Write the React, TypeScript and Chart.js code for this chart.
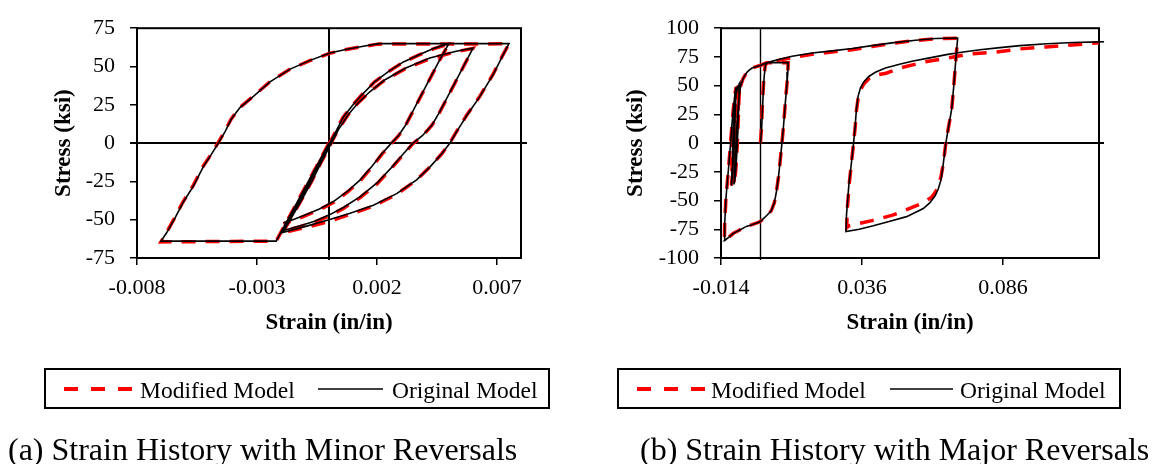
import React, { useEffect, useRef } from "react";
import { Chart, registerables } from "chart.js";

Chart.register(...registerables);

const SERIF = "'Liberation Serif', 'Times New Roman', Times, serif";

// ---------------- Panel (a): Strain History with Minor Reversals ----------------
const A_X_TICKS = [-0.008, -0.003, 0.002, 0.007];
const A_X_LABELS = ["-0.008", "-0.003", "0.002", "0.007"];
const A_Y_TICKS = [-75, -50, -25, 0, 25, 50, 75];
const A_Y_LABELS = ["-75", "-50", "-25", "0", "25", "50", "75"];

const A_ORIG_STRAIN = [
  0, -0.0011, -0.0022, -0.007,
  -0.00676, -0.00642, -0.00607, -0.00565, -0.00524, -0.00489, -0.00461, -0.00433, -0.00406, -0.00371,
  -0.00315, -0.00246, -0.00162, -0.00079, 0.00004, 0.00074, 0.00143, 0.00206, 0.0075,
  0.00726, 0.00685, 0.00629, 0.00574, 0.00532, 0.00504, 0.0047, 0.00421, 0.00365, 0.00282, 0.00185,
  0.00088, 0, -0.00093, -0.00176, -0.00193,
  -0.0015, -0.0011, -0.0007, -0.0003, 0.0001, 0.0004, 0.0008, 0.0012, 0.0017, 0.0023, 0.0032, 0.0042, 0.0053, 0.006,
  0.0058, 0.0055, 0.0052, 0.0049, 0.0046, 0.0043, 0.0039, 0.0035, 0.0031, 0.0026, 0.002, 0.0013, 0.0006, 0,
  -0.0006, -0.0012, -0.0019,
  -0.0016, -0.0012, -0.0008, -0.0004, 0, 0.0003, 0.0006, 0.001, 0.0014, 0.0019, 0.0025, 0.0031, 0.0038, 0.0044, 0.005,
  0.0047, 0.0044, 0.0041, 0.0038, 0.0035, 0.0032, 0.0029, 0.0026, 0.0022, 0.0018, 0.0013, 0.0008, 0.0002,
  -0.0004, -0.001, -0.0015, -0.0019,
];
const A_ORIG_STRESS = [
  0, -32, -64, -64,
  -58.4, -49, -38.5, -28, -15.5, -7, 0, 7.5, 15.9, 23.2,
  30.5, 40, 48.3, 54, 58.8, 61.3, 63.2, 64.9, 65,
  57.7, 45, 30.5, 18, 7.5, 0, -7, -15.5, -24, -33, -40.6,
  -45.8, -50, -54.2, -57.7, -58.4,
  -47, -36, -24.5, -12, 0, 9, 18.5, 26, 33.5, 41, 49, 55.5, 60, 62,
  56, 47, 38, 29, 20, 12, 5, 0, -7, -16, -26, -35, -42, -47,
  -51, -54, -57,
  -48, -37, -25, -13, -1, 8, 17, 25, 32, 40, 47, 53, 58, 62, 65,
  57, 48, 39, 30, 21, 12, 5, 0, -7, -15, -24, -31, -38,
  -43, -47, -50, -52,
];

const A_MOD_STRAIN = [
  0, -0.0011, -0.0022, -0.007,
  -0.00678, -0.00645, -0.0061, -0.00568, -0.00527, -0.00491, -0.00463, -0.00436, -0.00408, -0.00373,
  -0.00318, -0.00248, -0.00165, -0.0008, 0.00002, 0.00072, 0.0014, 0.00204, 0.0075,
  0.00724, 0.00683, 0.00627, 0.00572, 0.0053, 0.00502, 0.00468, 0.00419, 0.00362, 0.0028, 0.00183,
  0.00086, 0, -0.00095, -0.00178, -0.00195,
  -0.00152, -0.00112, -0.00072, -0.00032, 0.00008, 0.00038, 0.00078, 0.00118, 0.00168, 0.00228, 0.00318, 0.00418, 0.00528, 0.006,
  0.0058, 0.0055, 0.0052, 0.0049, 0.0046, 0.0043, 0.0039, 0.0035, 0.0031, 0.0026, 0.002, 0.0013, 0.0006, 0,
  -0.0006, -0.0012, -0.0019,
  -0.00162, -0.00122, -0.00082, -0.00042, -0.00002, 0.00028, 0.00058, 0.00098, 0.00138, 0.00188, 0.00248, 0.00308, 0.00378, 0.00438, 0.005,
  0.0047, 0.0044, 0.0041, 0.0038, 0.0035, 0.0032, 0.0029, 0.0026, 0.0022, 0.0018, 0.0013, 0.0008, 0.0002,
  -0.0004, -0.001, -0.0015, -0.0019,
];
const A_MOD_STRESS = [
  0, -32, -64, -64.5,
  -58.6, -49.3, -38.8, -28.3, -15.8, -7.2, 0, 7.3, 15.6, 23, 
  30.3, 39.8, 48, 53.8, 58.6, 61.1, 63, 64.6, 64.8,
  57.4, 44.8, 30.2, 17.8, 7.2, -0.3, -7.3, -15.8, -24.5, -33.6, -41.3,
  -46.6, -51.2, -55, -58, -58.8,
  -47.3, -36.3, -24.8, -12.3, -0.3, 8.7, 18.2, 25.7, 33.2, 40.6, 48.6, 55, 59.6, 61.8,
  55.8, 46.8, 37.8, 28.8, 19.8, 11.8, 4.7, -0.3, -7.4, -16.5, -26.6, -35.6, -42.6, -47.6,
  -51.6, -54.6, -57.4,
  -48.3, -37.3, -25.3, -13.3, -1.3, 7.7, 16.7, 24.7, 31.7, 39.7, 46.7, 52.7, 57.7, 61.7, 64.8,
  56.8, 47.8, 38.8, 29.8, 20.8, 11.8, 4.8, -0.3, -7.4, -15.5, -24.6, -31.6, -38.6,
  -43.5, -47.5, -50.6, -52.8,
];

// ---------------- Panel (b): Strain History with Major Reversals ----------------
const B_X_TICKS = [-0.014, 0.036, 0.086];
const B_X_LABELS = ["-0.014", "0.036", "0.086"];
const B_Y_TICKS = [-100, -75, -50, -25, 0, 25, 50, 75, 100];
const B_Y_LABELS = ["-100", "-75", "-50", "-25", "0", "25", "50", "75", "100"];

const B_ORIG_STRAIN = [
  0, 0.0004, 0.0009, 0.0013, 0.0018, 0.0025, 0.0098,
  0.0097, 0.0094, 0.0088, 0.0082, 0.0076, 0.007, 0.0064, 0.0056, 0.0049, 0.0038, 0.0022, 0.0005, -0.0002,
  -0.003, -0.005, -0.0077, -0.0096, -0.0113, -0.0128,
  -0.0127, -0.0123, -0.0119, -0.0112, -0.0106, -0.0101, -0.0095, -0.009, -0.0086,
  -0.0088, -0.0091, -0.0094, -0.0098, -0.0101, -0.0103,
  -0.0101, -0.0099, -0.0096, -0.0092, -0.0087, -0.008, -0.0074,
  -0.0076, -0.0079, -0.0082, -0.0086, -0.009, -0.0094,
  -0.0092, -0.0089, -0.0085, -0.0081, -0.0076, -0.007, -0.0062, -0.0055, -0.0049, -0.0042, -0.003, -0.0018,
  -0.0002, 0.002, 0.004, 0.0064, 0.0112, 0.0183, 0.0254, 0.0325, 0.0395, 0.0466, 0.055, 0.062, 0.0699,
  0.0695, 0.069, 0.0686, 0.0678, 0.0666, 0.0657, 0.0648, 0.064, 0.063, 0.0619, 0.06, 0.0577, 0.0518,
  0.0459, 0.04, 0.035, 0.0303,
  0.0305, 0.0313, 0.0322, 0.033, 0.0336, 0.034, 0.0346, 0.0354, 0.0366, 0.0384, 0.0407, 0.0443, 0.0493,
  0.0541, 0.06, 0.0659, 0.07, 0.0778, 0.0849, 0.092, 0.1015, 0.1109, 0.12, 0.1218,
];
const B_ORIG_STRESS = [
  0, 12, 40, 58, 68.5, 70, 70,
  62, 52, 35, 16, 0, -15, -29, -43, -52, -59, -63, -67, -68.5,
  -71, -72.5, -76, -78.5, -82, -85,
  -71, -50, -38, -18, 0, 17, 33, 44, 49,
  35, 15, -5, -22, -33, -37,
  -22, -5, 12, 30, 42, 49, 52,
  40, 20, 0, -18, -30, -36,
  -25, -10, 8, 25, 40, 50, 56, 59, 61.4, 63, 65.3, 66.3,
  67.5, 69.7, 71.3, 72.8, 75.6, 78.4, 80.3, 82.3, 84.8, 87.2, 89.5, 91, 91.5,
  80, 65, 52, 30, 13, 0, -18, -32, -40, -46, -52, -57, -64,
  -68, -72, -75, -77,
  -62, -37, -18, 0, 15.6, 29.6, 40.7, 47.7, 53.3, 58, 61.6, 65.3, 68.6,
  71.4, 74.2, 77, 78.7, 81.2, 83.1, 84.8, 86.5, 87.6, 88.1, 88.2,
];

const B_MOD_STRAIN = [
  0, 0.0003, 0.0008, 0.0012, 0.0017, 0.0025, 0.0098,
  0.0097, 0.0094, 0.0088, 0.0082, 0.0076, 0.007, 0.0064, 0.0056, 0.0049, 0.0038, 0.0022, 0.0005, -0.0002,
  -0.003, -0.005, -0.0077, -0.0096, -0.0113, -0.0128,
  -0.0127, -0.0123, -0.0119, -0.0112, -0.0106, -0.0101, -0.0095, -0.009, -0.0086,
  -0.0088, -0.0091, -0.0094, -0.0098, -0.0101, -0.0103,
  -0.0101, -0.0099, -0.0096, -0.0092, -0.0087, -0.008, -0.0074,
  -0.0076, -0.0079, -0.0082, -0.0086, -0.009, -0.0094,
  -0.0092, -0.0089, -0.0085, -0.0081, -0.0076, -0.007, -0.0062, -0.0055, -0.0049, -0.0042, -0.003, -0.0018,
  -0.0002, 0.002, 0.004, 0.0064, 0.0112, 0.0183, 0.0254, 0.0325, 0.0395, 0.0466, 0.055, 0.062, 0.0699,
  0.0695, 0.069, 0.0686, 0.0678, 0.0666, 0.0657, 0.0648, 0.064, 0.063, 0.0619, 0.0607, 0.0577, 0.0542,
  0.0471, 0.0395, 0.0313, 0.0306,
  0.0307, 0.0314, 0.0322, 0.033, 0.0336, 0.034, 0.0346, 0.0354, 0.0366, 0.0384, 0.0407, 0.0445, 0.0502,
  0.058, 0.0666, 0.0741, 0.0832, 0.0921, 0.1012, 0.1104, 0.12,
];
const B_MOD_STRESS = [
  0, 12, 40, 58, 68, 70, 70,
  62, 52, 35, 16, 0, -15, -29, -43, -52, -59, -63, -67, -68.5,
  -71, -72.5, -76, -78.5, -82, -85,
  -71, -50, -38, -18, 0, 17, 33, 44, 49,
  35, 15, -5, -22, -33, -37,
  -22, -5, 12, 30, 42, 49, 52,
  40, 20, 0, -18, -30, -36,
  -25, -10, 8, 25, 40, 50, 56, 59, 61.4, 63, 65.3, 66.3,
  67.5, 69.7, 71, 72, 74.5, 77.3, 79.3, 81.3, 84, 86.8, 89.3, 90.8, 91.3,
  80, 65, 52, 30, 13, 0, -18, -29, -38, -43, -47, -52, -55.5,
  -62.5, -67.5, -72, -73.5,
  -60, -37, -18, 0, 15, 28, 39, 46, 51.5, 56, 59, 60.8, 65.8,
  70.6, 74.2, 77.5, 79.2, 82, 83.7, 85.4, 87.3,
];

type Pt = { x: number; y: number };
const zip = (xs: number[], ys: number[]): Pt[] => xs.map((x, i) => ({ x, y: ys[i] }));

interface PanelSpec {
  xMin: number;
  xMax: number;
  xTicks: number[];
  xLabels: string[];
  yMin: number;
  yMax: number;
  yTicks: number[];
  yLabels: string[];
  orig: Pt[];
  mod: Pt[];
  yAxisWidth: number;
  yTitlePad: number;
  rightPad: number;
  zeroRightExt: number;
  vZeroWidth: number;
}

const PANEL_A: PanelSpec = {
  xMin: -0.008,
  xMax: 0.008,
  xTicks: A_X_TICKS,
  xLabels: A_X_LABELS,
  yMin: -75,
  yMax: 75,
  yTicks: A_Y_TICKS,
  yLabels: A_Y_LABELS,
  orig: zip(A_ORIG_STRAIN, A_ORIG_STRESS),
  mod: zip(A_MOD_STRAIN, A_MOD_STRESS),
  yAxisWidth: 137,
  yTitlePad: 50,
  rightPad: 39,
  zeroRightExt: 6,
  vZeroWidth: 2,
};

const PANEL_B: PanelSpec = {
  xMin: -0.014,
  xMax: 0.12,
  xTicks: B_X_TICKS,
  xLabels: B_X_LABELS,
  yMin: -100,
  yMax: 100,
  yTicks: B_Y_TICKS,
  yLabels: B_Y_LABELS,
  orig: zip(B_ORIG_STRAIN, B_ORIG_STRESS),
  mod: zip(B_MOD_STRAIN, B_MOD_STRESS),
  yAxisWidth: 141,
  yTitlePad: 42,
  rightPad: 59,
  zeroRightExt: 5,
  vZeroWidth: 1.4,
};

function framePlugin(spec: PanelSpec) {
  return {
    id: "frame",
    beforeDatasetsDraw(chart: any) {
      const { ctx, chartArea } = chart;
      const { left, right, top, bottom } = chartArea;
      const xs = chart.scales.x;
      const ys = chart.scales.y;
      ctx.save();
      ctx.strokeStyle = "#000";
      ctx.lineWidth = 2;
      ctx.strokeRect(left, top, right - left, bottom - top);
      const y0 = ys.getPixelForValue(0);
      ctx.beginPath();
      ctx.moveTo(left - 7, y0);
      ctx.lineTo(right + spec.zeroRightExt, y0);
      ctx.stroke();
      const x0 = xs.getPixelForValue(0);
      ctx.lineWidth = spec.vZeroWidth;
      ctx.beginPath();
      ctx.moveTo(x0, top);
      ctx.lineTo(x0, bottom + 2);
      ctx.stroke();
      ctx.restore();
    },
  };
}

function makeChart(canvas: HTMLCanvasElement, spec: PanelSpec) {
  const tickFont = { family: SERIF, size: 22 };
  const titleFont = { family: SERIF, size: 23, weight: "bold" as const };
  return new Chart(canvas, {
    type: "scatter",
    data: {
      datasets: [
        {
          label: "Original Model",
          data: spec.orig,
          showLine: true,
          borderColor: "#000000",
          backgroundColor: "#000000",
          borderWidth: 1.6,
          pointRadius: 0,
          pointHoverRadius: 0,
          fill: false,
          tension: 0,
          order: 0,
          clip: false,
        },
        {
          label: "Modified Model",
          data: spec.mod,
          showLine: true,
          borderColor: "#ff0000",
          backgroundColor: "#ff0000",
          borderWidth: 3.5,
          borderDash: [14, 10],
          pointRadius: 0,
          pointHoverRadius: 0,
          fill: false,
          tension: 0,
          order: 1,
          clip: 4,
        },
      ],
    },
    options: {
      animation: false,
      responsive: false,
      maintainAspectRatio: false,
      events: [],
      layout: { padding: { left: 0, top: 19, right: spec.rightPad, bottom: 2 } },
      plugins: {
        legend: { display: false },
        tooltip: { enabled: false },
        title: { display: false },
      },
      scales: {
        x: {
          type: "linear",
          min: spec.xMin,
          max: spec.xMax,
          afterBuildTicks: (s: any) => {
            s.ticks = spec.xTicks.map((v) => ({ value: v }));
          },
          afterFit: (s: any) => {
            s.height = 80;
          },
          ticks: {
            autoSkip: false,
            maxRotation: 0,
            minRotation: 0,
            padding: 10,
            color: "#000",
            font: tickFont,
            callback: (_v: any, i: number) => spec.xLabels[i],
          },
          grid: {
            display: true,
            drawOnChartArea: false,
            drawTicks: true,
            tickLength: 7,
            color: "#000",
            lineWidth: 1.5,
          },
          border: { display: true, color: "#000", width: 2 },
          title: {
            display: true,
            text: "Strain (in/in)",
            color: "#000",
            font: titleFont,
            padding: { top: 0, bottom: 1 },
          },
        },
        y: {
          type: "linear",
          min: spec.yMin,
          max: spec.yMax,
          afterBuildTicks: (s: any) => {
            s.ticks = spec.yTicks.map((v) => ({ value: v }));
          },
          afterFit: (s: any) => {
            s.width = spec.yAxisWidth;
          },
          ticks: {
            autoSkip: false,
            padding: 15,
            color: "#000",
            font: tickFont,
            callback: (_v: any, i: number) => spec.yLabels[i],
          },
          grid: {
            display: true,
            drawOnChartArea: false,
            drawTicks: true,
            tickLength: 7,
            color: "#000",
            lineWidth: 1.5,
          },
          border: { display: true, color: "#000", width: 2 },
          title: {
            display: true,
            text: "Stress (ksi)",
            color: "#000",
            font: titleFont,
            padding: { top: spec.yTitlePad, bottom: 0 },
          },
        },
      },
    } as any,
    plugins: [framePlugin(spec)],
  });
}

const LEGEND_FONT = 23.5;
const CAPTION_FONT = 32;

function Legend({ left, width, red, redText, black, blackText }: {
  left: number; width: number; red: [number, number]; redText: number; black: [number, number]; blackText: number;
}) {
  return (
    <g>
      <rect x={left + 1} y={369} width={width - 2} height={39} fill="#fff" stroke="#000" strokeWidth={2} />
      <line x1={red[0]} y1={389} x2={red[1]} y2={389} stroke="#ff0000" strokeWidth={4} strokeDasharray="14 13" />
      <text x={redText} y={397.5} fontFamily={SERIF} fontSize={LEGEND_FONT} fill="#000">Modified Model</text>
      <line x1={black[0]} y1={389} x2={black[1]} y2={389} stroke="#000" strokeWidth={1.6} />
      <text x={blackText} y={397.5} fontFamily={SERIF} fontSize={LEGEND_FONT} fill="#000">Original Model</text>
    </g>
  );
}

export default function App() {
  const refA = useRef<HTMLCanvasElement>(null);
  const refB = useRef<HTMLCanvasElement>(null);

  useEffect(() => {
    const a = makeChart(refA.current as HTMLCanvasElement, PANEL_A);
    const b = makeChart(refB.current as HTMLCanvasElement, PANEL_B);
    return () => {
      a.destroy();
      b.destroy();
    };
  }, []);

  return (
    <div style={{ position: "absolute", left: 0, top: 0, width: 1158, height: 464, background: "#fff", overflow: "hidden" }}>
      <canvas ref={refA} width={560} height={340} style={{ position: "absolute", left: 0, top: 0, width: 560, height: 340 }} />
      <canvas ref={refB} width={578} height={340} style={{ position: "absolute", left: 580, top: 0, width: 578, height: 340 }} />
      <svg width={1158} height={464} style={{ position: "absolute", left: 0, top: 0, pointerEvents: "none" }}>
        <Legend left={44} width={506} red={[64, 132]} redText={140} black={[318, 383]} blackText={392} />
        <Legend left={617} width={504} red={[637, 705]} redText={711} black={[890, 953]} blackText={960} />
        <text x={8} y={460} fontFamily={SERIF} fontSize={CAPTION_FONT} fill="#000">(a) Strain History with Minor Reversals</text>
        <text x={640} y={460} fontFamily={SERIF} fontSize={CAPTION_FONT} fill="#000">(b) Strain History with Major Reversals</text>
      </svg>
    </div>
  );
}
